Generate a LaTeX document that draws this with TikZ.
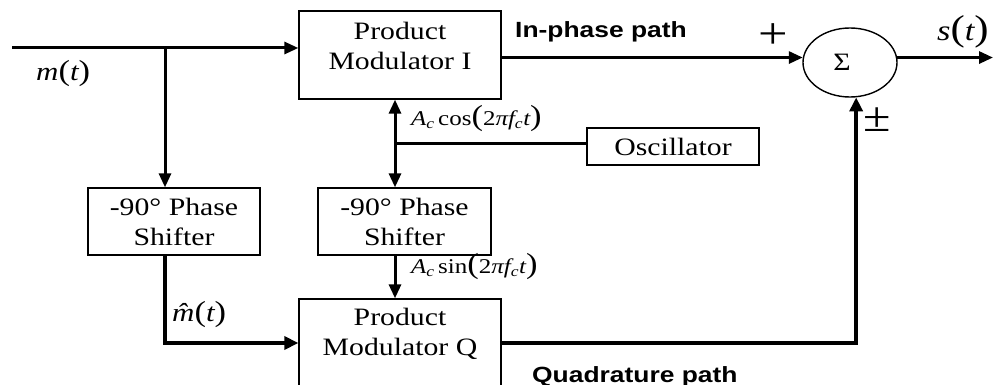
\documentclass[tikz,border=0pt]{standalone}
\usepackage{fontspec}
\setmainfont{Liberation Serif}[FakeStretch=1.19]
\newfontfamily\sansb{Liberation Sans}[FakeStretch=1.2]
\usetikzlibrary{arrows.meta,shapes.geometric}
\newcommand{\iv}[1]{{\itshape #1}}
\newcommand{\bp}[1]{{\fontsize{29}{29}\selectfont #1}}
\begin{document}
\begin{tikzpicture}[x=1pt,y=-1pt,
  box/.style={draw,line width=1.3pt,inner sep=0pt},
  txt/.style={font=\fontsize{25}{30}\selectfont,align=center,inner sep=0pt},
  arr/.style={line width=3pt,-{Triangle[length=14pt,width=12pt]}},
  darr/.style={line width=3pt,{Triangle[length=14pt,width=12pt]}-{Triangle[length=14pt,width=12pt]}},
  tharr/.style={line width=4.5pt,-{Triangle[length=14pt,width=13pt]}},
  lbl/.style={inner sep=0pt,font=\fontsize{21}{21}\selectfont},
  pathlbl/.style={inner sep=0pt,font=\sansb\bfseries\fontsize{22}{22}\selectfont}]
\useasboundingbox (0,0) rectangle (993,385);
\clip (0,0) rectangle (993,385);
% blocks
\node[box,minimum width=202pt,minimum height=88pt] (pmI) at (400,55) {};
\node[txt] (pmIt) at (400,46) {Product\\Modulator I};
\node[box,txt,minimum width=172pt,minimum height=67pt] (ps1) at (174,221.5) {-90° Phase\\Shifter};
\node[box,txt,minimum width=173pt,minimum height=67pt] (ps2) at (404.5,221.5) {-90° Phase\\Shifter};
\node[box,txt,minimum width=172pt,minimum height=37pt] (osc) at (673,146.5) {Oscillator};
\node[box,minimum width=202pt,minimum height=88pt] (pmQ) at (400,343) {};
\node[txt] (pmQt) at (400,334) {Product\\Modulator Q};
\node[draw,ellipse,line width=1.4pt,minimum width=94pt,minimum height=69pt,inner sep=0pt] (sum) at (850,62.5) {};
\node[inner sep=0pt,font=\fontsize{25}{25}\selectfont] (sig) at (842,62) {Σ};
% points
\coordinate (in) at (12,48);
\coordinate (br) at (165,48);
\coordinate (j) at (395,144);
\coordinate (out) at (993,57);
% connectors
\draw[arr] (in) -- (in -| pmI.west);
\draw[arr] (br) -- (br |- ps1.north);
\draw[tharr] (br |- ps1.south) |- (pmQ.west);
\draw[arr] (pmI.east |- sum.174) -- (sum.174);
\draw[arr] (sum.6) -- (out |- sum.6);
\draw[darr] (j |- pmI.south) -- (j |- ps2.north);
\draw[line width=3pt] (j) -- (j -| osc.west);
\draw[arr] (j |- ps2.south) -- (j |- pmQ.north);
\draw[tharr] (pmQ.east) -| (sum.-80);
% labels
\node[pathlbl,anchor=base west] (ip) at (515,38) {In-phase path};
\node[pathlbl,anchor=base west] (qp) at (532,382) {Quadrature path};
\node[lbl,anchor=base west] (cosl) at (411,125) {\iv{A}\textsubscript{\iv{c}}\,cos\bp{(}2\iv{πf}\textsubscript{\iv{c}}\iv{t}\bp{)}};
\node[lbl,anchor=base west] (sinl) at (411,273) {\iv{A}\textsubscript{\iv{c}}\,sin\bp{(}2\iv{πf}\textsubscript{\iv{c}}\iv{t}\bp{)}};
\node[inner sep=0pt,anchor=base west,font=\fontsize{26}{26}\selectfont] (ml) at (36,81) {\iv{m}\bp{(}\iv{t}\bp{)}};
\node[inner sep=0pt,anchor=base west,font=\fontsize{26}{26}\selectfont] (mhl) at (172,321) {\iv{m̂}\bp{(}\iv{t}\bp{)}};
\node[inner sep=0pt,anchor=base west,font=\fontsize{29}{29}\selectfont] (sl) at (937,41) {\iv{s}{\fontsize{36}{36}\selectfont(}\iv{t}{\fontsize{36}{36}\selectfont)}};
\node[inner sep=0pt,font=\fontsize{44}{44}\selectfont] (plus) at (773,36) {+};
\node[inner sep=0pt,font=\fontsize{42}{42}\selectfont] (pm) at (877,120) {±};
\end{tikzpicture}
\end{document}
